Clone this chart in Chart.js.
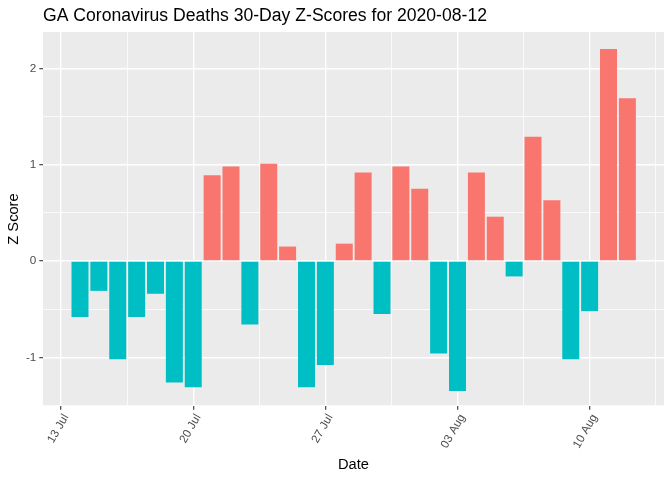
<!DOCTYPE html>
<html>
<head>
<meta charset="utf-8">
<script src="https://cdn.jsdelivr.net/npm/chart.js@4.4.1/dist/chart.umd.min.js"></script>
<style>
  html, body { margin: 0; padding: 0; background: #ffffff; }
  #wrap { width: 672px; height: 480px; position: relative; }
</style>
</head>
<body>
<div id="wrap"><canvas id="c" width="672" height="480"></canvas></div>
<script>
// ---- data ----
const dates = [
  '2020-07-14','2020-07-15','2020-07-16','2020-07-17','2020-07-18','2020-07-19','2020-07-20',
  '2020-07-21','2020-07-22','2020-07-23','2020-07-24','2020-07-25','2020-07-26','2020-07-27',
  '2020-07-28','2020-07-29','2020-07-30','2020-07-31','2020-08-01','2020-08-02','2020-08-03',
  '2020-08-04','2020-08-05','2020-08-06','2020-08-07','2020-08-08','2020-08-09','2020-08-10',
  '2020-08-11','2020-08-12'
];
const zScores = [
  -0.58, -0.31, -1.02, -0.58, -0.34, -1.26, -1.31,
   0.89,  0.98, -0.66,  1.01,  0.15, -1.31, -1.08,
   0.18,  0.92, -0.55,  0.98,  0.75, -0.96, -1.35,
   0.92,  0.46, -0.16,  1.29,  0.63, -1.02, -0.52,
   2.20,  1.69
];
const xTickDates  = ['2020-07-13','2020-07-20','2020-07-27','2020-08-03','2020-08-10'];
const xTickLabels = ['13 Jul','20 Jul','27 Jul','03 Aug','10 Aug'];
const yMajorTicks = [-1, 0, 1, 2];
const yMinorTicks = [-1.5, -0.5, 0.5, 1.5];
const yTickLabels = ['-1', '0', '1', '2'];

// ---- helpers ----
const DAY = 86400000;
const origin = Date.parse(xTickDates[0] + 'T00:00:00Z');
const toDay = d => (Date.parse(d + 'T00:00:00Z') - origin) / DAY;
const points = dates.map((d, i) => ({ x: toDay(d), y: zScores[i] }));
const xMajor = xTickDates.map(toDay);
const xMinor = [];
for (let i = 0; i < xMajor.length; i++) {
  const next = i + 1 < xMajor.length ? xMajor[i + 1] : xMajor[i] + (xMajor[1] - xMajor[0]);
  xMinor.push((xMajor[i] + next) / 2);
}

const RED = '#F8766D', TEAL = '#00BFC4';
const FONT = "'Liberation Sans', Arial, sans-serif";

const panelBg = {
  id: 'panelBg',
  beforeDraw(chart) {
    const { ctx, chartArea: a } = chart;
    ctx.save();
    ctx.fillStyle = '#EBEBEB';
    ctx.fillRect(a.left, a.top, a.right - a.left, a.bottom - a.top);
    ctx.restore();
  },
  afterLayout(chart) {
    if (chart.titleBlock) chart.titleBlock.left = chart.chartArea.left;
  }
};

function gridWidth(c) { return c.tick && c.tick.isMajor ? 1.4 : 0.75; }
function tickCol(c) { return c.tick && c.tick.isMajor ? '#333333' : 'rgba(0,0,0,0)'; }

new Chart(document.getElementById('c'), {
  type: 'bar',
  data: {
    datasets: [{
      data: points,
      backgroundColor: c => (c.raw && c.raw.y > 0 ? RED : TEAL),
      borderWidth: 0,
      categoryPercentage: 1.0,
      barPercentage: 0.9
    }]
  },
  options: {
    responsive: false,
    animation: false,
    devicePixelRatio: 1,
    layout: { padding: { left: 0, right: 8, top: 0, bottom: 0 } },
    plugins: {
      legend: { display: false },
      tooltip: { enabled: false },
      title: {
        display: true,
        text: 'GA Coronavirus Deaths 30-Day Z-Scores for 2020-08-12',
        align: 'start',
        color: '#000000',
        font: { family: FONT, size: 17.6, weight: 'normal', lineHeight: 1.2 },
        padding: { top: 6, bottom: 4.9 }
      }
    },
    scales: {
      x: {
        type: 'linear',
        offset: false,
        min: -0.96,
        max: 31.94,
        afterFit(s) { s.height = 74; },
        afterBuildTicks(s) {
          const t = [];
          xMajor.forEach((v, i) => t.push({ value: v, isMajor: true, lab: xTickLabels[i] }));
          xMinor.forEach(v => t.push({ value: v, isMajor: false, lab: '' }));
          t.sort((a, b) => a.value - b.value);
          s.ticks = t.filter(k => k.value >= s.min && k.value <= s.max);
        },
        ticks: {
          autoSkip: false,
          minRotation: 60,
          maxRotation: 60,
          padding: 2,
          labelOffset: 5,
          color: '#4D4D4D',
          font: { family: FONT, size: 11.7 },
          callback(value, index, ticks) { return ticks[index].lab; }
        },
        grid: {
          offset: false,
          color: '#FFFFFF',
          lineWidth: gridWidth,
          drawTicks: true,
          tickLength: 3.7,
          tickColor: tickCol,
          tickWidth: 1.1
        },
        border: { display: false },
        title: {
          display: true,
          text: 'Date',
          color: '#000000',
          font: { family: FONT, size: 14.67, lineHeight: 1.2 },
          padding: { top: 0, bottom: 6.6 }
        }
      },
      y: {
        type: 'linear',
        min: -1.505,
        max: 2.377,
        afterFit(s) { s.width = 43; },
        afterBuildTicks(s) {
          const t = [];
          yMajorTicks.forEach((v, i) => t.push({ value: v, isMajor: true, lab: yTickLabels[i] }));
          yMinorTicks.forEach(v => t.push({ value: v, isMajor: false, lab: '' }));
          t.sort((a, b) => a.value - b.value);
          s.ticks = t.filter(k => k.value >= s.min && k.value <= s.max);
        },
        ticks: {
          autoSkip: false,
          padding: 3,
          color: '#4D4D4D',
          font: { family: FONT, size: 11.7 },
          callback(value, index, ticks) { return ticks[index].lab; }
        },
        grid: {
          color: '#FFFFFF',
          lineWidth: gridWidth,
          drawTicks: true,
          tickLength: 3.7,
          tickColor: tickCol,
          tickWidth: 1.1
        },
        border: { display: false },
        title: {
          display: true,
          text: 'Z Score',
          color: '#000000',
          font: { family: FONT, size: 14.67, lineHeight: 1.2 },
          padding: { top: 5, bottom: 0 }
        }
      }
    }
  },
  plugins: [panelBg]
});
</script>
</body>
</html>
